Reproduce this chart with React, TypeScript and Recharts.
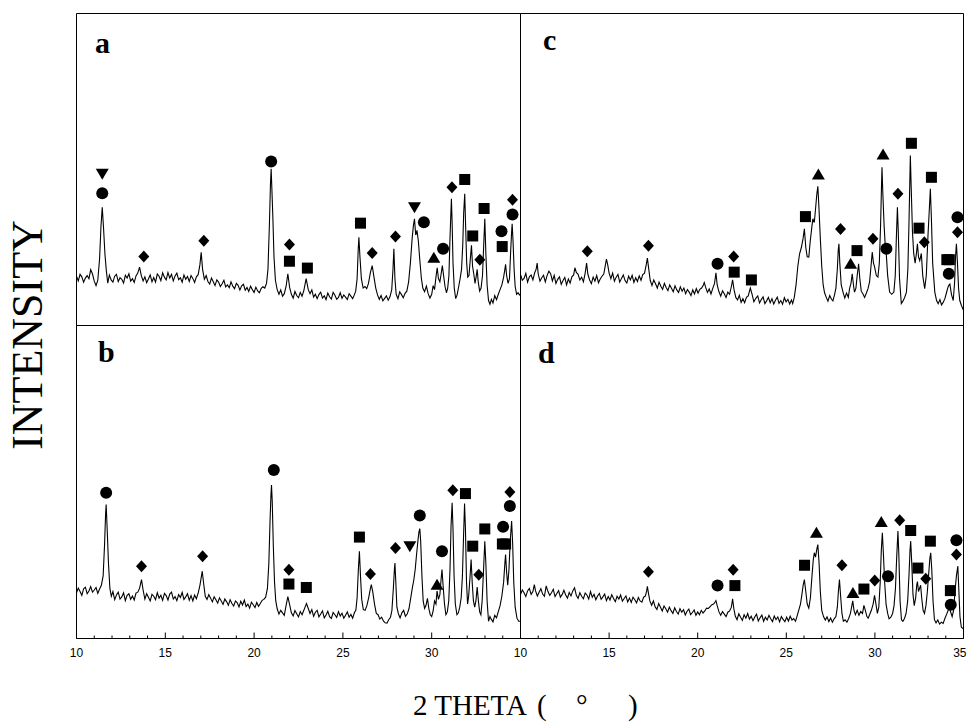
import { ComposedChart, Line, ReferenceArea, Scatter, XAxis, YAxis } from "recharts";

// 2θ ticks (every degree, majors every 5) and intensity ticks
const X_TICKS = [10, 11, 12, 13, 14, 15, 16, 17, 18, 19, 20, 21, 22, 23, 24, 25, 26, 27, 28, 29, 30, 31, 32, 33, 34, 35];
const Y_TICKS = [0, 10, 20, 30, 40, 50, 60, 70, 80, 90, 100];
const LABELS_LEFT = [10, 15, 20, 25, 30];
const LABELS_RIGHT = [10, 15, 20, 25, 30, 35];

type Pt = [number, number];
type Mk = [number, number, string]; // c circle, s square, d diamond, t up-triangle, v down-triangle

const TRACE_A: Pt[] = [
  [10.0, 15.8], [10.1, 14.3], [10.2, 16.4], [10.3, 15.6], [10.4, 13.9], [10.5, 15.2], [10.6, 16.0], [10.7, 15.0], [10.8, 17.9], [10.9, 16.5],
  [11.0, 14.2], [11.1, 12.8], [11.2, 14.5], [11.3, 21.5], [11.38, 32.0], [11.45, 37.9], [11.52, 31.5], [11.6, 23.0], [11.68, 17.5], [11.76, 13.6],
  [11.85, 16.2], [11.95, 14.6], [12.05, 13.9], [12.15, 15.8], [12.25, 16.4], [12.35, 14.1], [12.45, 15.3], [12.55, 14.8], [12.65, 13.6], [12.75, 16.1],
  [12.85, 15.2], [12.95, 16.6], [13.05, 14.2], [13.15, 15.0], [13.25, 13.8], [13.35, 15.9], [13.45, 16.8], [13.55, 18.7], [13.65, 16.0], [13.75, 14.3],
  [13.85, 15.6], [13.95, 13.7], [14.05, 14.9], [14.15, 16.2], [14.25, 14.0], [14.35, 15.4], [14.45, 13.9], [14.55, 16.5], [14.65, 15.8], [14.75, 14.4],
  [14.85, 16.9], [14.95, 15.5], [15.05, 14.6], [15.15, 17.0], [15.25, 15.2], [15.35, 16.4], [15.45, 14.3], [15.55, 15.9], [15.65, 16.8], [15.75, 14.7],
  [15.85, 15.3], [15.95, 13.9], [16.05, 16.2], [16.15, 14.8], [16.25, 15.7], [16.35, 14.1], [16.45, 16.0], [16.55, 15.1], [16.65, 13.8], [16.75, 15.6],
  [16.85, 16.3], [16.95, 19.5], [17.02, 23.5], [17.1, 18.0], [17.2, 14.8], [17.3, 16.0], [17.4, 14.1], [17.5, 13.3], [17.6, 15.2], [17.7, 14.0],
  [17.8, 12.8], [17.9, 14.6], [18.0, 13.9], [18.1, 12.5], [18.2, 13.4], [18.3, 14.5], [18.4, 12.4], [18.5, 13.0], [18.6, 12.1], [18.7, 14.0],
  [18.8, 12.6], [18.9, 11.8], [19.0, 13.5], [19.1, 12.9], [19.2, 11.4], [19.3, 12.7], [19.4, 13.2], [19.5, 11.3], [19.6, 12.2], [19.7, 10.9],
  [19.8, 12.6], [19.9, 11.5], [20.0, 10.6], [20.1, 12.3], [20.2, 11.1], [20.3, 10.5], [20.4, 11.9], [20.5, 12.4], [20.6, 12.0], [20.7, 13.5],
  [20.78, 18.0], [20.86, 32.0], [20.92, 45.0], [20.96, 50.2], [21.0, 44.0], [21.06, 34.0], [21.12, 22.0], [21.2, 14.5], [21.3, 11.5], [21.4, 10.0],
  [21.5, 11.4], [21.6, 9.4], [21.7, 10.2], [21.8, 12.5], [21.9, 16.6], [22.0, 12.2], [22.1, 10.0], [22.2, 8.8], [22.3, 10.9], [22.4, 9.6],
  [22.5, 8.9], [22.6, 10.6], [22.7, 9.4], [22.8, 11.2], [22.93, 15.0], [23.05, 11.5], [23.15, 10.2], [23.25, 11.4], [23.35, 9.1], [23.45, 10.0],
  [23.55, 8.6], [23.65, 9.9], [23.75, 10.7], [23.85, 8.8], [23.95, 9.5], [24.05, 8.3], [24.15, 10.4], [24.25, 9.2], [24.35, 8.5], [24.45, 10.6],
  [24.55, 9.7], [24.65, 8.4], [24.75, 9.0], [24.85, 10.5], [24.95, 8.7], [25.05, 9.8], [25.15, 9.1], [25.25, 8.3], [25.35, 10.2], [25.45, 9.4],
  [25.55, 8.6], [25.65, 9.9], [25.72, 11.0], [25.8, 15.0], [25.86, 24.0], [25.9, 28.3], [25.96, 22.0], [26.04, 15.0], [26.14, 12.0], [26.24, 12.5],
  [26.34, 11.8], [26.44, 13.5], [26.55, 17.0], [26.65, 19.2], [26.75, 15.5], [26.85, 12.0], [26.95, 9.8], [27.05, 8.4], [27.15, 9.6], [27.25, 7.9],
  [27.35, 8.7], [27.45, 9.5], [27.55, 8.1], [27.65, 9.2], [27.75, 11.5], [27.82, 18.0], [27.87, 24.6], [27.93, 15.0], [28.0, 10.0], [28.1, 8.6],
  [28.2, 10.8], [28.3, 9.9], [28.4, 8.9], [28.5, 10.3], [28.6, 11.0], [28.7, 14.0], [28.8, 20.0], [28.9, 28.0], [28.97, 32.0], [29.03, 34.2],
  [29.1, 29.0], [29.17, 30.5], [29.25, 27.0], [29.33, 21.0], [29.42, 15.0], [29.5, 12.0], [29.6, 10.8], [29.7, 12.6], [29.8, 10.2], [29.9, 8.8],
  [30.0, 10.0], [30.08, 12.8], [30.16, 11.5], [30.24, 15.5], [30.31, 18.5], [30.38, 15.0], [30.46, 14.0], [30.53, 16.5], [30.6, 19.2], [30.67, 16.0],
  [30.75, 12.5], [30.83, 10.5], [30.9, 12.0], [30.97, 16.0], [31.03, 28.0], [31.08, 36.0], [31.11, 40.6], [31.15, 33.0], [31.2, 20.0], [31.27, 12.0],
  [31.35, 8.6], [31.43, 9.8], [31.52, 12.5], [31.6, 15.0], [31.68, 18.0], [31.75, 26.0], [31.8, 36.0], [31.86, 42.2], [31.91, 32.0], [31.97, 20.0],
  [32.03, 15.5], [32.1, 16.0], [32.17, 21.0], [32.24, 25.7], [32.3, 19.0], [32.37, 16.5], [32.44, 13.5], [32.5, 15.5], [32.56, 18.0], [32.62, 14.0],
  [32.7, 11.0], [32.78, 12.0], [32.86, 16.0], [32.93, 26.0], [32.99, 34.2], [33.05, 23.0], [33.12, 13.0], [33.2, 8.0], [33.28, 6.8], [33.36, 8.4],
  [33.45, 7.2], [33.55, 9.6], [33.65, 8.3], [33.75, 10.0], [33.85, 11.5], [33.95, 13.0], [34.05, 15.5], [34.12, 18.0], [34.16, 19.6], [34.22, 16.0],
  [34.3, 13.5], [34.38, 15.0], [34.44, 23.0], [34.5, 30.0], [34.53, 32.6], [34.58, 27.0], [34.64, 18.0], [34.7, 12.5], [34.78, 10.0], [34.86, 10.5],
  [34.94, 9.8], [35.0, 10.0],
];

const TRACE_B: Pt[] = [
  [10.0, 14.6], [10.1, 16.1], [10.2, 15.0], [10.3, 13.8], [10.4, 15.9], [10.5, 16.4], [10.6, 14.3], [10.7, 15.2], [10.8, 16.6], [10.9, 14.8],
  [11.0, 15.5], [11.1, 16.3], [11.2, 14.4], [11.3, 15.8], [11.4, 17.0], [11.5, 20.0], [11.58, 30.0], [11.64, 40.0], [11.67, 42.8], [11.72, 36.0],
  [11.8, 24.0], [11.88, 16.0], [11.96, 13.5], [12.05, 15.0], [12.15, 12.4], [12.25, 13.9], [12.35, 14.8], [12.45, 12.6], [12.55, 13.3], [12.65, 14.6],
  [12.75, 12.1], [12.85, 13.8], [12.95, 14.3], [13.05, 12.5], [13.15, 13.6], [13.25, 12.3], [13.35, 14.5], [13.45, 14.8], [13.55, 16.0], [13.66, 18.8],
  [13.75, 15.5], [13.85, 12.6], [13.95, 14.3], [14.05, 13.2], [14.15, 12.0], [14.25, 14.1], [14.35, 13.5], [14.45, 12.4], [14.55, 14.6], [14.65, 12.9],
  [14.75, 13.8], [14.85, 12.2], [14.95, 14.4], [15.05, 13.7], [15.15, 12.3], [15.25, 14.2], [15.35, 14.8], [15.45, 12.6], [15.55, 13.4], [15.65, 12.1],
  [15.75, 14.0], [15.85, 13.1], [15.95, 14.7], [16.05, 12.5], [16.15, 13.3], [16.25, 14.3], [16.35, 12.2], [16.45, 13.7], [16.55, 12.0], [16.65, 13.9],
  [16.75, 12.7], [16.85, 14.5], [16.95, 17.0], [17.08, 21.5], [17.16, 17.5], [17.25, 13.5], [17.35, 12.5], [17.45, 14.0], [17.55, 12.9], [17.65, 11.7],
  [17.75, 13.3], [17.85, 12.4], [17.95, 11.3], [18.05, 13.0], [18.15, 12.0], [18.25, 10.9], [18.35, 12.6], [18.45, 11.8], [18.55, 10.6], [18.65, 12.4],
  [18.75, 11.2], [18.85, 10.4], [18.95, 12.0], [19.05, 11.4], [19.15, 10.1], [19.25, 11.9], [19.35, 10.7], [19.45, 12.3], [19.55, 10.2], [19.65, 11.0],
  [19.75, 9.7], [19.85, 11.6], [19.95, 10.8], [20.05, 9.9], [20.15, 11.5], [20.25, 10.3], [20.35, 11.2], [20.45, 12.2], [20.55, 12.5], [20.65, 13.2],
  [20.75, 16.0], [20.83, 24.0], [20.9, 38.0], [20.95, 46.0], [20.98, 49.0], [21.02, 44.0], [21.08, 30.0], [21.15, 18.0], [21.22, 12.0], [21.3, 9.5],
  [21.4, 7.8], [21.5, 9.0], [21.6, 8.2], [21.7, 7.4], [21.8, 10.5], [21.9, 13.4], [22.0, 10.8], [22.1, 8.2], [22.2, 7.2], [22.3, 8.9],
  [22.4, 7.9], [22.5, 6.9], [22.6, 8.6], [22.7, 7.6], [22.8, 9.0], [22.88, 10.2], [22.95, 11.2], [23.05, 9.6], [23.15, 8.0], [23.25, 9.2],
  [23.35, 7.1], [23.45, 8.4], [23.55, 9.0], [23.65, 6.9], [23.75, 7.8], [23.85, 8.8], [23.95, 6.6], [24.05, 7.5], [24.15, 8.7], [24.25, 7.0],
  [24.35, 6.4], [24.45, 8.3], [24.55, 7.6], [24.65, 6.7], [24.75, 8.6], [24.85, 7.2], [24.95, 8.1], [25.05, 6.5], [25.15, 7.4], [25.25, 8.5],
  [25.35, 6.8], [25.45, 7.7], [25.55, 6.5], [25.65, 8.3], [25.73, 9.0], [25.8, 13.0], [25.87, 22.0], [25.93, 27.9], [25.99, 20.0], [26.06, 12.5],
  [26.15, 9.2], [26.25, 9.0], [26.35, 10.5], [26.45, 13.0], [26.55, 16.0], [26.6, 17.2], [26.68, 15.0], [26.78, 11.0], [26.88, 8.0], [26.98, 7.6],
  [27.08, 6.2], [27.18, 6.8], [27.28, 5.6], [27.38, 5.0], [27.48, 4.9], [27.58, 6.0], [27.68, 6.8], [27.76, 9.0], [27.84, 16.0], [27.9, 22.0],
  [27.93, 24.1], [27.98, 18.0], [28.04, 10.0], [28.12, 8.0], [28.22, 6.6], [28.32, 8.2], [28.42, 9.0], [28.52, 7.1], [28.62, 7.8], [28.72, 9.5],
  [28.82, 13.0], [28.92, 16.5], [28.99, 18.6], [29.07, 22.0], [29.15, 27.0], [29.23, 31.5], [29.28, 34.0], [29.33, 35.1], [29.38, 31.0], [29.45, 20.0],
  [29.52, 12.0], [29.6, 9.6], [29.68, 10.6], [29.76, 12.8], [29.84, 9.5], [29.92, 7.6], [30.0, 7.0], [30.08, 8.8], [30.16, 12.0], [30.24, 11.0],
  [30.3, 15.2], [30.38, 12.5], [30.46, 14.0], [30.53, 19.0], [30.58, 22.0], [30.64, 17.0], [30.72, 11.0], [30.8, 7.6], [30.88, 8.5], [30.96, 12.0],
  [31.03, 22.0], [31.09, 36.0], [31.15, 43.4], [31.2, 35.0], [31.26, 20.0], [31.33, 11.0], [31.42, 7.6], [31.5, 8.2], [31.58, 10.0], [31.66, 13.0],
  [31.73, 20.0], [31.79, 32.0], [31.85, 43.1], [31.9, 35.0], [31.96, 18.0], [32.02, 11.0], [32.08, 13.5], [32.15, 19.0], [32.22, 25.2], [32.28, 18.0],
  [32.35, 12.0], [32.42, 10.0], [32.49, 12.0], [32.56, 16.4], [32.63, 12.0], [32.7, 8.5], [32.77, 7.6], [32.84, 12.0], [32.92, 22.0], [32.99, 31.1],
  [33.05, 24.0], [33.12, 12.0], [33.2, 5.5], [33.28, 7.0], [33.36, 6.1], [33.45, 5.3], [33.55, 7.4], [33.65, 6.6], [33.75, 8.6], [33.85, 10.5],
  [33.95, 13.5], [34.05, 18.0], [34.12, 24.0], [34.16, 26.8], [34.22, 21.0], [34.28, 17.0], [34.35, 22.0], [34.42, 31.0], [34.5, 37.5], [34.56, 30.0],
  [34.62, 18.0], [34.7, 10.0], [34.8, 6.5], [34.9, 5.5], [35.0, 5.5],
];

const TRACE_C: Pt[] = [
  [10.0, 16.4], [10.1, 14.5], [10.2, 15.1], [10.3, 16.7], [10.4, 13.9], [10.5, 15.6], [10.6, 16.2], [10.7, 14.6], [10.8, 16.9], [10.88, 18.0],
  [10.94, 20.0], [11.0, 16.5], [11.1, 14.2], [11.2, 15.3], [11.3, 16.1], [11.4, 14.0], [11.5, 16.0], [11.6, 17.4], [11.7, 16.6], [11.8, 14.3],
  [11.9, 16.1], [12.0, 13.5], [12.1, 14.8], [12.2, 15.6], [12.3, 13.2], [12.4, 14.4], [12.5, 15.4], [12.6, 13.0], [12.7, 14.9], [12.8, 13.6],
  [12.9, 15.6], [13.0, 16.2], [13.07, 18.5], [13.15, 17.0], [13.25, 16.4], [13.35, 14.6], [13.45, 15.5], [13.55, 14.0], [13.65, 16.8], [13.73, 20.0],
  [13.8, 16.5], [13.9, 14.6], [14.0, 13.4], [14.1, 15.5], [14.2, 14.2], [14.3, 16.0], [14.4, 13.7], [14.5, 14.9], [14.6, 15.8], [14.7, 16.5],
  [14.78, 19.0], [14.85, 21.3], [14.92, 19.5], [15.0, 16.8], [15.1, 15.0], [15.2, 16.8], [15.3, 14.2], [15.4, 15.5], [15.5, 16.4], [15.6, 13.9],
  [15.7, 15.1], [15.8, 16.2], [15.9, 14.4], [16.0, 13.6], [16.1, 15.8], [16.2, 14.6], [16.3, 16.1], [16.4, 13.8], [16.5, 15.3], [16.6, 14.1],
  [16.7, 15.9], [16.8, 14.5], [16.9, 16.3], [17.0, 16.8], [17.08, 19.0], [17.16, 21.6], [17.24, 18.0], [17.32, 14.5], [17.42, 12.8], [17.52, 14.6],
  [17.62, 13.4], [17.72, 12.0], [17.82, 13.9], [17.92, 12.6], [18.02, 11.6], [18.12, 13.5], [18.22, 12.2], [18.32, 11.2], [18.42, 13.0], [18.52, 11.9],
  [18.62, 10.8], [18.72, 12.7], [18.82, 11.4], [18.92, 10.6], [19.02, 12.4], [19.12, 11.0], [19.22, 12.0], [19.32, 10.2], [19.42, 11.5], [19.52, 10.7],
  [19.62, 9.6], [19.72, 11.4], [19.82, 10.1], [19.92, 11.8], [20.02, 10.4], [20.12, 11.6], [20.22, 12.0], [20.32, 13.0], [20.37, 13.8], [20.45, 12.2],
  [20.55, 10.6], [20.65, 11.7], [20.75, 10.1], [20.85, 11.9], [20.95, 13.5], [21.03, 16.9], [21.1, 13.0], [21.2, 10.8], [21.3, 9.4], [21.4, 11.1],
  [21.5, 10.2], [21.6, 9.0], [21.7, 10.7], [21.8, 10.0], [21.9, 12.5], [21.97, 14.6], [22.05, 11.5], [22.15, 9.0], [22.25, 8.2], [22.35, 9.7],
  [22.45, 7.4], [22.55, 8.6], [22.65, 7.3], [22.75, 9.0], [22.85, 9.5], [22.97, 12.0], [23.07, 10.0], [23.17, 7.6], [23.29, 8.8], [23.39, 9.5],
  [23.49, 7.2], [23.59, 8.3], [23.69, 9.2], [23.79, 7.0], [23.89, 7.9], [23.99, 9.0], [24.09, 7.3], [24.19, 8.6], [24.29, 6.9], [24.39, 8.1],
  [24.49, 9.1], [24.59, 7.1], [24.69, 8.0], [24.79, 6.8], [24.89, 8.9], [24.99, 7.6], [25.09, 8.4], [25.19, 6.9], [25.29, 8.2], [25.36, 7.0],
  [25.45, 9.0], [25.55, 13.0], [25.65, 19.0], [25.75, 23.0], [25.85, 25.0], [25.95, 28.0], [26.02, 31.0], [26.1, 25.0], [26.18, 22.0], [26.27, 21.9],
  [26.35, 27.0], [26.45, 32.0], [26.5, 34.2], [26.58, 33.0], [26.66, 38.0], [26.72, 42.0], [26.78, 44.6], [26.84, 38.0], [26.92, 28.0], [27.0, 19.0],
  [27.08, 13.0], [27.16, 10.5], [27.25, 9.1], [27.35, 7.8], [27.45, 9.6], [27.55, 8.4], [27.63, 7.9], [27.72, 9.8], [27.8, 12.0], [27.88, 18.0],
  [27.93, 24.0], [27.97, 26.2], [28.02, 20.0], [28.1, 13.0], [28.2, 10.7], [28.3, 8.8], [28.4, 10.4], [28.5, 9.0], [28.57, 11.8], [28.65, 13.5],
  [28.72, 16.6], [28.8, 12.5], [28.85, 10.7], [28.93, 12.0], [29.0, 16.0], [29.08, 19.8], [29.15, 15.0], [29.23, 11.0], [29.32, 10.2], [29.42, 9.0],
  [29.52, 10.4], [29.61, 11.8], [29.7, 14.0], [29.78, 19.0], [29.85, 23.5], [29.92, 20.0], [29.98, 18.9], [30.08, 16.0], [30.17, 15.5], [30.25, 20.0],
  [30.32, 32.0], [30.37, 44.0], [30.4, 50.7], [30.45, 42.0], [30.52, 32.0], [30.58, 26.0], [30.64, 23.1], [30.72, 16.0], [30.83, 10.7], [30.95, 10.0],
  [31.07, 10.7], [31.15, 16.0], [31.21, 28.0], [31.27, 37.9], [31.32, 30.0], [31.39, 15.0], [31.49, 7.0], [31.58, 7.8], [31.68, 9.0], [31.78, 10.7],
  [31.86, 18.0], [31.92, 32.0], [31.97, 46.0], [32.0, 54.5], [32.05, 44.0], [32.12, 30.0], [32.19, 23.1], [32.27, 20.0], [32.34, 23.0], [32.4, 26.2],
  [32.46, 22.0], [32.53, 20.8], [32.62, 23.1], [32.7, 16.0], [32.81, 11.8], [32.9, 16.0], [32.96, 24.0], [33.0, 29.4], [33.06, 36.0], [33.13, 43.8],
  [33.19, 34.0], [33.26, 20.0], [33.38, 10.7], [33.48, 8.0], [33.57, 7.0], [33.67, 8.3], [33.76, 6.6], [33.85, 7.4], [33.95, 8.6], [34.04, 10.5],
  [34.1, 11.8], [34.16, 12.8], [34.23, 13.3], [34.32, 10.0], [34.42, 8.0], [34.5, 14.0], [34.55, 22.0], [34.6, 26.2], [34.66, 20.0], [34.72, 12.0],
  [34.79, 8.0], [34.88, 6.5], [34.95, 5.5], [35.0, 4.9],
];

const TRACE_D: Pt[] = [
  [10.0, 14.0], [10.1, 15.5], [10.2, 14.6], [10.3, 13.4], [10.4, 15.2], [10.5, 16.0], [10.6, 14.1], [10.7, 15.0], [10.78, 17.2], [10.85, 15.2],
  [10.95, 13.6], [11.05, 14.8], [11.15, 15.9], [11.25, 14.2], [11.35, 13.5], [11.45, 16.8], [11.55, 15.0], [11.65, 13.8], [11.75, 14.6], [11.85, 15.7],
  [11.95, 13.4], [12.05, 14.4], [12.15, 15.3], [12.25, 13.2], [12.35, 14.0], [12.45, 15.4], [12.55, 13.9], [12.65, 12.9], [12.75, 14.7], [12.85, 13.6],
  [12.95, 15.2], [13.05, 16.2], [13.15, 13.8], [13.25, 12.8], [13.35, 14.6], [13.45, 13.5], [13.55, 12.7], [13.65, 14.5], [13.75, 13.9], [13.85, 12.6],
  [13.95, 15.0], [14.05, 13.2], [14.15, 14.1], [14.25, 12.4], [14.35, 13.6], [14.45, 14.4], [14.55, 12.5], [14.65, 13.3], [14.75, 14.2], [14.85, 12.1],
  [14.95, 13.4], [15.05, 12.3], [15.15, 14.0], [15.25, 12.8], [15.35, 11.8], [15.45, 13.5], [15.55, 12.6], [15.65, 13.9], [15.75, 11.9], [15.85, 12.8],
  [15.95, 13.6], [16.05, 11.7], [16.15, 12.9], [16.25, 11.5], [16.35, 13.2], [16.45, 12.4], [16.55, 11.4], [16.65, 13.1], [16.75, 12.0], [16.85, 11.6],
  [16.95, 13.2], [17.05, 13.6], [17.12, 15.2], [17.16, 16.7], [17.22, 14.5], [17.3, 12.0], [17.4, 10.6], [17.5, 12.0], [17.6, 10.1], [17.7, 9.3],
  [17.8, 11.2], [17.9, 10.0], [18.0, 8.8], [18.1, 10.4], [18.2, 9.5], [18.3, 8.4], [18.4, 10.0], [18.5, 8.9], [18.6, 8.0], [18.7, 9.8],
  [18.8, 8.6], [18.9, 7.8], [19.0, 9.5], [19.1, 8.4], [19.2, 9.2], [19.3, 7.5], [19.4, 8.7], [19.5, 9.4], [19.6, 7.6], [19.7, 8.3],
  [19.8, 9.1], [19.9, 7.4], [20.0, 8.5], [20.1, 7.6], [20.2, 9.0], [20.3, 8.1], [20.4, 8.8], [20.5, 9.7], [20.6, 9.6], [20.7, 10.2],
  [20.8, 10.8], [20.9, 11.0], [21.0, 11.8], [21.03, 12.1], [21.1, 10.5], [21.2, 8.5], [21.3, 7.4], [21.4, 8.6], [21.5, 7.8], [21.6, 7.0],
  [21.7, 8.4], [21.8, 8.8], [21.9, 10.0], [21.97, 12.7], [22.04, 9.5], [22.12, 7.2], [22.22, 6.0], [22.32, 7.9], [22.42, 6.8], [22.52, 5.8],
  [22.62, 7.6], [22.72, 6.5], [22.82, 8.0], [22.92, 6.2], [23.02, 7.1], [23.12, 5.7], [23.22, 6.9], [23.32, 7.8], [23.42, 5.6], [23.52, 6.6],
  [23.62, 7.5], [23.72, 5.5], [23.82, 6.8], [23.92, 5.9], [24.02, 7.4], [24.12, 6.3], [24.22, 5.4], [24.32, 7.2], [24.42, 6.0], [24.52, 6.9],
  [24.62, 5.3], [24.72, 7.0], [24.82, 6.1], [24.92, 5.4], [25.02, 6.8], [25.12, 5.6], [25.22, 7.1], [25.32, 5.9], [25.42, 6.4], [25.52, 5.5],
  [25.6, 7.0], [25.7, 9.0], [25.8, 11.0], [25.88, 14.0], [25.95, 17.0], [26.02, 18.8], [26.1, 15.0], [26.18, 11.0], [26.27, 9.7], [26.36, 13.0],
  [26.45, 20.0], [26.52, 25.0], [26.58, 27.4], [26.65, 26.0], [26.72, 28.5], [26.78, 30.0], [26.85, 24.0], [26.92, 15.0], [27.0, 9.0], [27.1, 7.0],
  [27.2, 5.9], [27.3, 6.9], [27.4, 5.4], [27.5, 6.5], [27.6, 5.2], [27.7, 6.3], [27.8, 7.0], [27.88, 10.0], [27.94, 15.0], [28.0, 18.8],
  [28.06, 14.0], [28.14, 8.0], [28.22, 5.5], [28.32, 6.0], [28.42, 5.2], [28.52, 6.4], [28.62, 8.0], [28.7, 10.5], [28.75, 12.0], [28.82, 9.0],
  [28.9, 7.6], [29.0, 9.0], [29.1, 7.4], [29.2, 8.6], [29.3, 8.0], [29.38, 10.6], [29.46, 9.0], [29.55, 7.0], [29.62, 6.5], [29.7, 7.6],
  [29.8, 9.0], [29.9, 11.0], [29.98, 13.8], [30.06, 11.0], [30.14, 8.0], [30.22, 10.0], [30.3, 18.0], [30.36, 28.0], [30.42, 33.8], [30.48, 27.0],
  [30.55, 18.0], [30.63, 11.0], [30.72, 8.0], [30.8, 6.3], [30.9, 6.8], [31.0, 8.0], [31.08, 10.5], [31.16, 16.0], [31.23, 26.0], [31.3, 34.3],
  [31.35, 27.0], [31.42, 12.0], [31.5, 6.0], [31.58, 5.5], [31.67, 6.4], [31.76, 8.0], [31.85, 12.0], [31.93, 21.0], [31.98, 28.0], [32.02, 31.1],
  [32.08, 24.0], [32.15, 14.0], [32.22, 10.5], [32.3, 13.0], [32.36, 17.0], [32.4, 18.2], [32.46, 15.0], [32.52, 16.0], [32.58, 17.0], [32.64, 13.0],
  [32.72, 9.0], [32.8, 8.0], [32.88, 10.5], [32.96, 15.0], [33.04, 21.0], [33.1, 25.5], [33.15, 27.4], [33.21, 22.0], [33.28, 12.0], [33.36, 6.0],
  [33.45, 5.0], [33.55, 5.9], [33.65, 4.6], [33.75, 5.2], [33.85, 4.8], [33.95, 6.4], [34.05, 7.8], [34.12, 8.8], [34.2, 9.7], [34.28, 8.4],
  [34.36, 7.0], [34.44, 9.0], [34.52, 15.0], [34.6, 20.0], [34.68, 23.1], [34.74, 15.0], [34.8, 7.0], [34.88, 3.6], [34.95, 3.3], [35.0, 3.0],
];

// phase markers above the peaks
const MARKS_A: Mk[] = [
  [11.45, 48.6, "v"], [11.45, 42.4, "c"], [13.79, 22.1, "d"], [17.17, 27.2, "d"], [20.96, 52.6, "c"], [21.99, 26.0, "d"], [21.99, 20.6, "s"],
  [23.0, 18.4, "s"], [25.99, 32.8, "s"], [26.65, 23.2, "d"], [27.96, 28.5, "d"], [29.03, 37.9, "v"], [29.56, 33.1, "c"], [30.12, 21.7, "t"],
  [30.64, 24.6, "c"], [31.14, 44.3, "d"], [31.86, 46.8, "s"], [32.31, 28.7, "s"], [32.71, 21.1, "d"], [32.95, 37.5, "s"], [33.93, 30.2, "c"],
  [33.97, 25.3, "s"], [34.55, 40.3, "d"], [34.55, 35.6, "c"],
];

const MARKS_B: Mk[] = [
  [11.67, 46.6, "c"], [13.66, 23.1, "d"], [17.1, 26.3, "d"], [21.11, 53.8, "c"], [21.96, 22.0, "d"], [21.96, 17.4, "s"], [22.94, 16.3, "s"],
  [25.93, 32.4, "s"], [26.55, 20.6, "d"], [27.96, 28.9, "d"], [28.77, 29.5, "v"], [29.33, 39.3, "c"], [30.3, 17.2, "t"], [30.58, 27.9, "c"],
  [31.19, 47.4, "d"], [31.9, 46.3, "s"], [32.31, 29.5, "s"], [32.65, 20.4, "d"], [32.99, 35.0, "s"], [34.02, 35.7, "c"], [33.98, 30.2, "s"],
  [34.16, 30.2, "s"], [34.4, 46.8, "d"], [34.4, 42.3, "c"],
];

const MARKS_C: Mk[] = [
  [13.77, 23.8, "d"], [17.22, 25.6, "d"], [21.12, 19.8, "c"], [22.03, 22.1, "d"], [22.06, 17.1, "s"], [23.03, 14.6, "s"], [26.08, 34.9, "s"],
  [26.81, 48.4, "t"], [28.06, 30.9, "d"], [28.63, 19.8, "t"], [28.99, 24.0, "s"], [29.89, 27.8, "d"], [30.46, 54.8, "t"], [30.65, 24.6, "c"],
  [31.3, 42.2, "d"], [32.06, 58.4, "s"], [32.49, 31.2, "s"], [32.79, 26.7, "d"], [33.19, 47.5, "s"], [34.66, 34.7, "c"], [34.66, 29.9, "d"],
  [34.06, 21.1, "s"], [34.2, 21.1, "s"], [34.17, 16.6, "c"],
];

const MARKS_D: Mk[] = [
  [17.22, 21.3, "d"], [21.12, 16.9, "c"], [22.0, 22.0, "d"], [22.1, 16.9, "s"], [26.03, 23.4, "s"], [26.7, 33.8, "t"], [28.14, 23.4, "d"],
  [28.76, 14.5, "t"], [29.38, 15.8, "s"], [29.99, 18.5, "d"], [30.74, 19.9, "c"], [30.36, 37.2, "t"], [31.4, 37.8, "d"], [32.02, 34.5, "s"],
  [32.43, 22.5, "s"], [32.87, 19.1, "d"], [33.13, 31.1, "s"], [34.6, 31.4, "c"], [34.6, 26.8, "d"], [34.26, 15.3, "s"], [34.28, 10.8, "c"],
];

const SERIF = "'Liberation Serif', 'Times New Roman', serif";
const SANS = "'Liberation Sans', Arial, sans-serif";

function Mark(props: any) {
  const { cx, cy } = props;
  const m = props.payload?.m;
  if (cx == null || cy == null) return null;
  if (m === "c") return <circle cx={cx} cy={cy} r={6} fill="#000" />;
  if (m === "s") return <rect x={cx - 5.5} y={cy - 5.5} width={11} height={11} fill="#000" />;
  if (m === "d") return <path d={`M${cx},${cy - 6}L${cx + 5.5},${cy}L${cx},${cy + 6}L${cx - 5.5},${cy}Z`} fill="#000" />;
  if (m === "t") return <path d={`M${cx},${cy - 6}L${cx + 6.5},${cy + 5}L${cx - 6.5},${cy + 5}Z`} fill="#000" />;
  return <path d={`M${cx},${cy + 6}L${cx + 6.5},${cy - 5}L${cx - 6.5},${cy - 5}Z`} fill="#000" />;
}

function XTick(props: any) {
  const { x, y, payload, labels } = props;
  const v = payload.value;
  const major = v % 5 === 0;
  const last = v === 35;
  return (
    <g>
      <line x1={x} x2={x} y1={y} y2={y - (major ? 6 : 3)} stroke="#000" strokeWidth={1} />
      {labels && labels.includes(v) && (
        <text x={last ? x + 3 : x} y={y + 18} textAnchor={last ? "end" : "middle"} fontSize={12} fontFamily={SANS} fill="#000">
          {v}
        </text>
      )}
    </g>
  );
}

function YTick(props: any) {
  const { x, y, payload } = props;
  if (payload.value === 0 || payload.value === 100) return <g />;
  return <line x1={x} x2={x + 4} y1={y} y2={y} stroke="#000" strokeWidth={1} />;
}

function Panel({ trace, marks, left, top, plotW, plotH, labels }: { trace: Pt[]; marks: Mk[]; left: number; top: number; plotW: number; plotH: number; labels?: number[] }) {
  const line = trace.map(([x, y]) => ({ x, y }));
  const pts = marks.map(([x, y, m]) => ({ x, y, m }));
  const axisH = labels ? 24 : 0;
  const height = plotH + 2.5 + (labels ? axisH : 1.5);
  return (
    <div style={{ position: "absolute", left: left - 8, top: top - 2 }}>
      <ComposedChart width={plotW + 16} height={height} margin={{ top: 2.5, right: 7.5, bottom: labels ? 0 : 1.5, left: 8.5 }}>
        <XAxis
          dataKey="x"
          type="number"
          domain={[10, 35]}
          ticks={X_TICKS}
          interval={0}
          allowDataOverflow
          height={axisH}
          axisLine={false}
          tickLine={false}
          tickSize={0}
          tickMargin={0}
          tick={(p: any) => <XTick {...p} labels={labels} />}
        />
        <YAxis
          type="number"
          domain={[0, 100]}
          ticks={Y_TICKS}
          interval={0}
          allowDataOverflow
          width={0}
          axisLine={false}
          tickLine={false}
          tickSize={0}
          tickMargin={0}
          tick={YTick}
        />
        <ReferenceArea x1={10} x2={35} y1={0} y2={100} fill="none" stroke="#000" strokeWidth={1} />
        <Line data={line} dataKey="y" type="linear" dot={false} activeDot={false} stroke="#000" strokeWidth={1.1} isAnimationActive={false} />
        <Scatter data={pts} dataKey="y" shape={Mark} isAnimationActive={false} />
      </ComposedChart>
    </div>
  );
}

export default function App() {
  return (
    <div style={{ position: "absolute", left: 0, top: 0, width: 968, height: 723, overflow: "hidden", background: "#fff" }}>
      <Panel trace={TRACE_A} marks={MARKS_A} left={76} top={13} plotW={444} plotH={312} />
      <Panel trace={TRACE_C} marks={MARKS_C} left={520} top={13} plotW={443} plotH={312} />
      <Panel trace={TRACE_B} marks={MARKS_B} left={76} top={325} plotW={444} plotH={313} labels={LABELS_LEFT} />
      <Panel trace={TRACE_D} marks={MARKS_D} left={520} top={325} plotW={443} plotH={313} labels={LABELS_RIGHT} />
      <svg width={968} height={723} style={{ position: "absolute", left: 0, top: 0, pointerEvents: "none" }}>
        <g fontFamily={SERIF} fontWeight="bold" fontSize={30} fill="#000">
          <text x={95} y={53}>a</text>
          <text x={98} y={362}>b</text>
          <text x={543} y={50}>c</text>
          <text x={538} y={363}>d</text>
        </g>
        <text transform="translate(42 335) rotate(-90)" textAnchor="middle" fontFamily={SERIF} fontSize={44} fill="#000">
          INTENSITY
        </text>
        <text x={413} y={715} fontFamily={SERIF} fontSize={29} fill="#000">
          2 THETA
          <tspan x={537}>(</tspan>
          <tspan x={576}>°</tspan>
          <tspan x={628}>)</tspan>
        </text>
      </svg>
    </div>
  );
}
